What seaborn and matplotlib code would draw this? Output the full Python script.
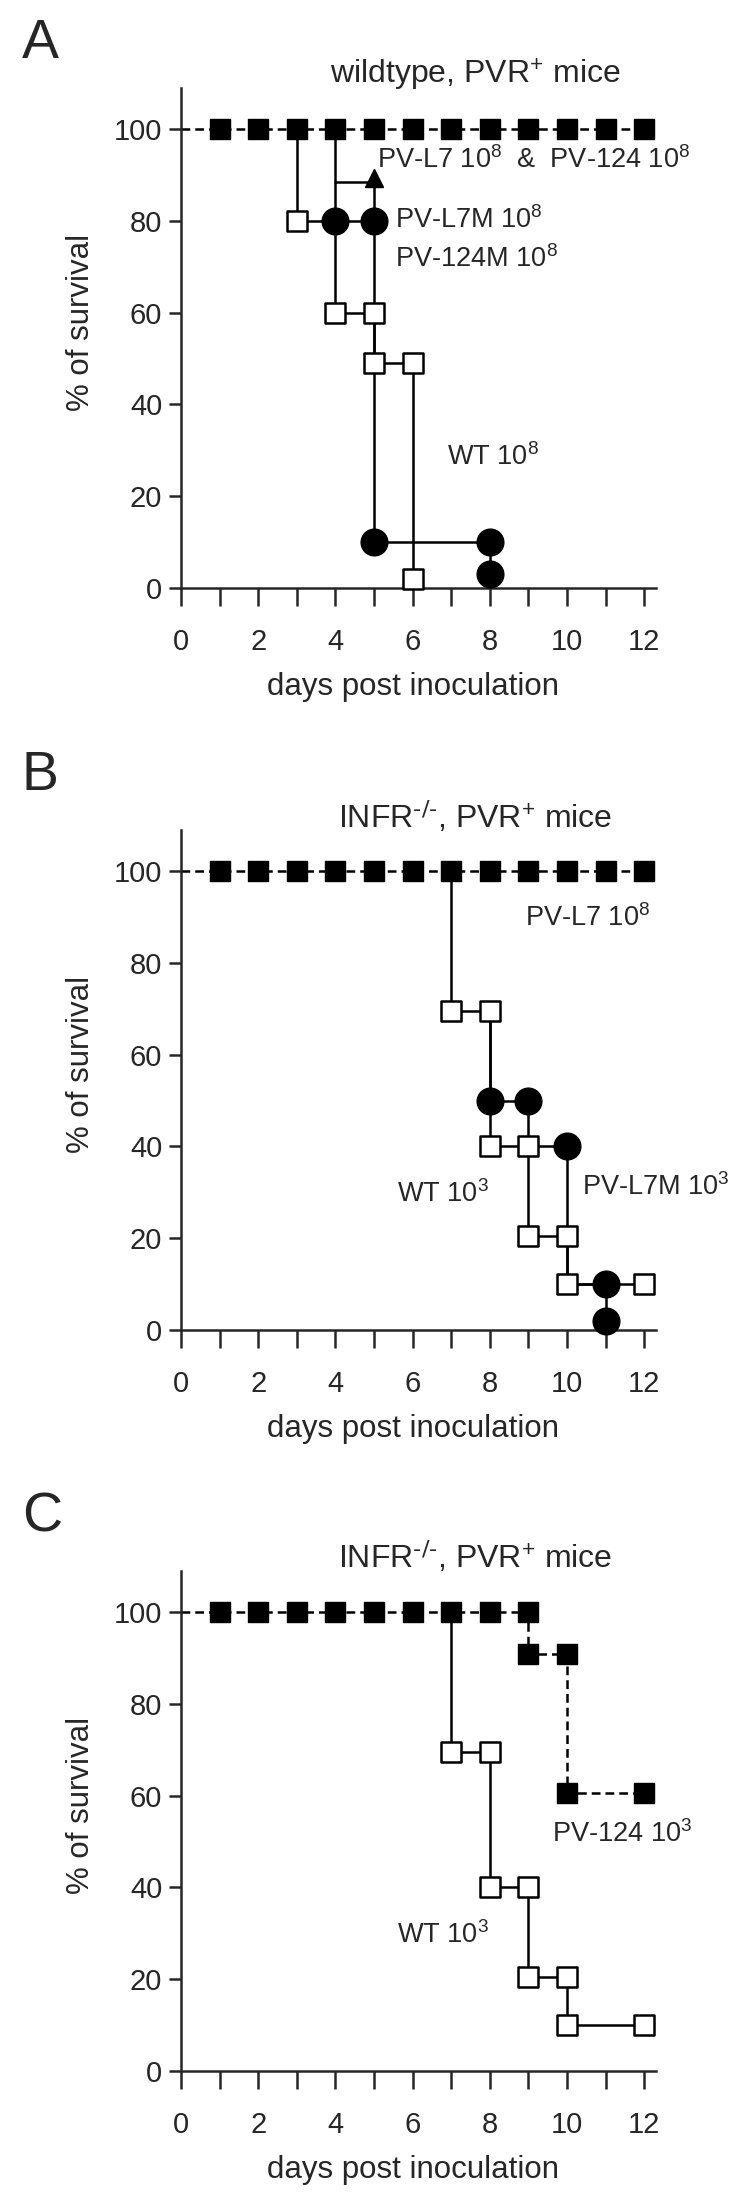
"""
Survival curves of PVR+ mice after poliovirus inoculation,
three stacked panels (A, B, C).
"""

import matplotlib
matplotlib.use('Agg')
import matplotlib.pyplot as plt
import seaborn as sns

sns.set_style('ticks')
plt.rcParams['font.family'] = ['Liberation Sans', 'DejaVu Sans']
plt.rcParams['mathtext.default'] = 'regular'

# ---- shared axis data ----
x_ticks = [0, 1, 2, 3, 4, 5, 6, 7, 8, 9, 10, 11, 12]
x_tick_labels = ['0', '', '2', '', '4', '', '6', '', '8', '', '10', '', '12']
y_ticks = [0, 20, 40, 60, 80, 100]
all_days = [1, 2, 3, 4, 5, 6, 7, 8, 9, 10, 11, 12]
all_alive = [100, 100, 100, 100, 100, 100, 100, 100, 100, 100, 100, 100]

# ---- panel A: wildtype, PVR+ mice ----
a_l7_line_x = [0, 12]
a_l7_line_y = [100, 100]
a_wt_line_x = [3, 3, 4, 4, 5, 5, 6, 6]
a_wt_line_y = [100, 80, 80, 60, 60, 49, 49, 2]
a_wt_x = [3, 4, 5, 5, 6, 6]
a_wt_y = [80, 60, 60, 49, 49, 2]
a_m_line_x = [4, 4, 5, 5, 8, 8]
a_m_line_y = [100, 80, 80, 10, 10, 3]
a_m_x = [4, 5, 5, 8, 8]
a_m_y = [80, 80, 10, 10, 3]
a_arrow_x = [4, 5, 5]
a_arrow_y = [88.5, 88.5, 80]

# ---- panel B: INFR-/-, PVR+ mice ----
b_l7_line_x = [0, 12]
b_l7_line_y = [100, 100]
b_wt_line_x = [7, 7, 8, 8, 9, 9, 10, 10, 12]
b_wt_line_y = [100, 69.5, 69.5, 40, 40, 20.5, 20.5, 10, 10]
b_wt_x = [7, 8, 8, 9, 9, 10, 10, 12]
b_wt_y = [69.5, 69.5, 40, 40, 20.5, 20.5, 10, 10]
b_m_line_x = [8, 8, 9, 9, 10, 10, 11, 11]
b_m_line_y = [69.5, 50, 50, 40, 40, 10, 10, 2]
b_m_x = [8, 9, 10, 11, 11]
b_m_y = [50, 50, 40, 10, 2]

# ---- panel C: INFR-/-, PVR+ mice ----
c_124_line_x = [0, 9, 9, 10, 10, 12]
c_124_line_y = [100, 100, 90.8, 90.8, 60.5, 60.5]
c_124_x = [1, 2, 3, 4, 5, 6, 7, 8, 9, 9, 10, 10, 12]
c_124_y = [100, 100, 100, 100, 100, 100, 100, 100, 100, 90.8, 90.8, 60.5, 60.5]
c_wt_line_x = [7, 7, 8, 8, 9, 9, 10, 10, 12]
c_wt_line_y = [100, 69.5, 69.5, 40, 40, 20.5, 20.5, 10, 10]
c_wt_x = [7, 8, 8, 9, 9, 10, 10, 12]
c_wt_y = [69.5, 69.5, 40, 40, 20.5, 20.5, 10, 10]

LW = 1.8
DASH = (0, (3.5, 2.0))
FS = 19.5
TICK_FS = 21
W, H = 750, 2192
KO = r'INFR$^{\text{-/-}}$, PVR$^{+}$ mice'


def line(ax, x, y, dashed=False):
    sns.lineplot(x=x, y=y, ax=ax, sort=False, estimator=None, color='black',
                 lw=LW, linestyle=DASH if dashed else '-', zorder=2,
                 clip_on=False)


def filled_sq(ax, x, y):
    sns.scatterplot(x=x, y=y, ax=ax, marker='s', s=200, color='black',
                    edgecolor='black', linewidth=1, zorder=6, clip_on=False)


def open_sq(ax, x, y):
    sns.scatterplot(x=x, y=y, ax=ax, marker='s', s=215, color='white',
                    edgecolor='black', linewidth=LW, zorder=3, clip_on=False)


def circles(ax, x, y):
    sns.scatterplot(x=x, y=y, ax=ax, marker='o', s=370, color='black',
                    edgecolor='black', linewidth=1, zorder=4, clip_on=False)


def setup_axes(y0_px, letter, letter_px, title, title_px):
    top_px = y0_px - 109 * 4.59
    ax = fig.add_axes([181 / W, 1 - y0_px / H, 12.3 * 38.6 / W,
                       (y0_px - top_px) / H])
    ax.set_xlim(0, 12.3)
    ax.set_ylim(0, 109)
    sns.despine(ax=ax)
    for side in ['left', 'bottom']:
        ax.spines[side].set_linewidth(LW)
    ax.set_xticks(x_ticks)
    ax.set_xticklabels(x_tick_labels)
    ax.set_yticks(y_ticks)
    ax.tick_params(axis='x', length=13, width=LW, pad=16, labelsize=TICK_FS)
    ax.tick_params(axis='y', length=8.5, width=LW, pad=5, labelsize=TICK_FS)
    ax.set_xlabel('days post inoculation', fontsize=22.5)
    ax.xaxis.set_label_coords(6 / 12.3, -0.168)
    ax.text(-0.21, 0.53, '% of survival', transform=ax.transAxes,
            rotation=90, ha='center', va='center', fontsize=22.5)
    fig.text(22 / W, 1 - letter_px / H, letter, fontsize=40,
             ha='left', va='baseline')
    fig.text(475 / W, 1 - title_px / H, title, fontsize=23,
             ha='center', va='center')
    return ax


fig = plt.figure(figsize=(W / 100, H / 100), dpi=100)

# panel A
ax = setup_axes(588, 'A', 58, 'wildtype, PVR$^{+}$ mice', 75)
line(ax, a_l7_line_x, a_l7_line_y, dashed=True)
line(ax, a_wt_line_x, a_wt_line_y)
line(ax, a_m_line_x, a_m_line_y)
line(ax, a_arrow_x, a_arrow_y)
ax.plot([5], [89.3], marker='^', ms=13, color='black', zorder=5)
filled_sq(ax, all_days, all_alive)
open_sq(ax, a_wt_x, a_wt_y)
circles(ax, a_m_x, a_m_y)
ax.text(5.08, 91.5, 'PV-L7 10$^8$  &  PV-124 10$^8$', fontsize=FS,
        va='baseline')
ax.text(5.54, 78.5, 'PV-L7M 10$^8$', fontsize=FS, va='baseline')
ax.text(5.54, 70.0, 'PV-124M 10$^8$', fontsize=FS, va='baseline')
ax.text(6.9, 26.8, 'WT 10$^8$', fontsize=FS, va='baseline')

# panel B
ax = setup_axes(1330, 'B', 790, KO, 817)
line(ax, b_l7_line_x, b_l7_line_y, dashed=True)
line(ax, b_wt_line_x, b_wt_line_y)
line(ax, b_m_line_x, b_m_line_y)
filled_sq(ax, all_days, all_alive)
open_sq(ax, b_wt_x, b_wt_y)
circles(ax, b_m_x, b_m_y)
ax.text(8.9, 88.0, 'PV-L7 10$^8$', fontsize=FS, va='baseline')
ax.text(5.6, 27.9, 'WT 10$^3$', fontsize=FS, va='baseline')
ax.text(10.4, 29.5, 'PV-L7M 10$^3$', fontsize=FS, va='baseline')

# panel C
ax = setup_axes(2071, 'C', 1532, KO, 1557)
line(ax, c_124_line_x, c_124_line_y, dashed=True)
line(ax, c_wt_line_x, c_wt_line_y)
filled_sq(ax, c_124_x, c_124_y)
open_sq(ax, c_wt_x, c_wt_y)
ax.text(9.6, 49.8, 'PV-124 10$^3$', fontsize=FS, va='baseline')
ax.text(5.6, 27.8, 'WT 10$^3$', fontsize=FS, va='baseline')

fig.savefig('out.png', dpi=100)
